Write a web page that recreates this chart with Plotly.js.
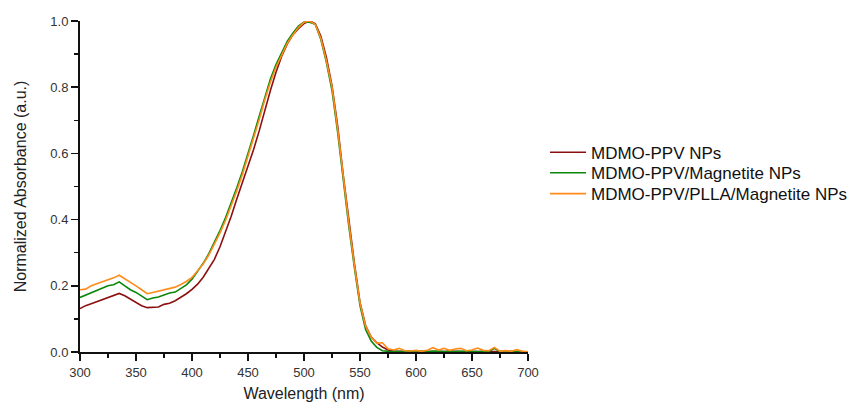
<!DOCTYPE html>
<html>
<head>
<meta charset="utf-8">
<script src="https://cdn.plot.ly/plotly-3.0.1.min.js"></script>
<style>html,body{margin:0;padding:0;background:#fff;}#chart{width:850px;height:402px;}</style>
</head>
<body>
<div id="chart"></div>
<script>
const wavelength = [300,305,310,315,320,325,330,335,340,345,350,355,360,365,370,375,380,385,390,395,
  400,405,410,415,420,425,430,435,440,445,450,455,460,465,470,475,480,485,490,495,
  500,505,510,515,520,525,530,535,540,545,550,555,560,565,570,575,580,585,590,595,
  600,605,610,615,620,625,630,635,640,645,650,655,660,665,670,675,680,685,690,695,700];

const mdmoPPV = [0.131,0.140,0.146,0.152,0.158,0.164,0.172,0.177,0.170,0.160,0.149,0.140,0.134,0.134,0.136,0.144,0.147,0.155,0.165,0.176,
  0.189,0.205,0.226,0.252,0.280,0.318,0.362,0.410,0.462,0.512,0.560,0.612,0.668,0.730,0.790,0.845,0.893,0.930,0.958,0.977,
  0.992,1.000,0.992,0.955,0.890,0.805,0.685,0.535,0.395,0.268,0.150,0.080,0.045,0.028,0.015,0.006,0.003,0.002,0.002,0.001,
  0.002,0.001,0.002,0.001,0.001,0.002,0.001,0.002,0.001,0.001,0.002,0.001,0.002,0.003,0.001,0.001,0.002,0.001,0.001,0.001,0.000];

const mdmoMagnetite = [0.165,0.172,0.181,0.186,0.193,0.200,0.203,0.212,0.200,0.188,0.180,0.168,0.158,0.163,0.166,0.172,0.178,0.181,0.192,0.203,
  0.220,0.243,0.268,0.297,0.330,0.367,0.406,0.450,0.496,0.545,0.598,0.655,0.712,0.772,0.825,0.868,0.905,0.938,0.963,0.985,
  0.997,0.996,0.990,0.945,0.875,0.790,0.665,0.520,0.380,0.255,0.140,0.068,0.033,0.014,0.004,0.002,0.001,0.002,0.001,0.003,
  0.001,0.002,0.001,0.003,0.002,0.001,0.003,0.001,0.002,0.001,0.002,0.001,0.003,0.001,0.011,0.001,0.002,0.001,0.002,0.001,0.000];

const mdmoPLLAMagnetite = [0.188,0.190,0.200,0.206,0.211,0.218,0.224,0.232,0.222,0.212,0.200,0.188,0.176,0.180,0.184,0.187,0.190,0.196,0.204,0.213,
  0.225,0.245,0.266,0.293,0.325,0.360,0.398,0.441,0.487,0.536,0.589,0.645,0.702,0.762,0.815,0.860,0.898,0.932,0.958,0.980,
  0.996,1.000,0.990,0.948,0.880,0.800,0.675,0.530,0.390,0.262,0.148,0.078,0.045,0.027,0.028,0.010,0.006,0.011,0.004,0.003,
  0.005,0.002,0.005,0.013,0.006,0.011,0.005,0.009,0.011,0.004,0.006,0.012,0.005,0.004,0.014,0.002,0.004,0.002,0.007,0.002,0.001];

const seriesNames = ['MDMO-PPV NPs','MDMO-PPV/Magnetite NPs','MDMO-PPV/PLLA/Magnetite NPs'];
const seriesColors = ['#8b1010','#0a870a','#ff8c1a'];
const seriesData = [mdmoPPV, mdmoMagnetite, mdmoPLLAMagnetite];
const legendIds = ['legend','legend2','legend3'];
const legendY = [0.602, 0.540, 0.477];

const font = 'Liberation Sans, Arial, sans-serif';
const traces = seriesData.map((y, i) => ({
  x: wavelength, y: y, type: 'scatter', mode: 'lines', name: seriesNames[i],
  legend: legendIds[i],
  line: {color: seriesColors[i], width: 1.6}
}));

const layout = {
  width: 850, height: 402,
  margin: {l: 80, r: 322, t: 21, b: 50, autoexpand: false},
  paper_bgcolor: '#fff', plot_bgcolor: '#fff',
  font: {family: font, color: '#222'},
  showlegend: true,
  xaxis: {
    range: [300, 700], showgrid: false, zeroline: false, showline: true, linecolor: '#111', linewidth: 2,
    ticks: 'outside', ticklen: 7, tickwidth: 1.5, tickcolor: '#111', dtick: 50, tick0: 300,
    minor: {ticks: 'outside', ticklen: 4, tickwidth: 1.5, tickcolor: '#111', dtick: 25},
    tickfont: {size: 13, family: font, color: '#333'},
    title: {text: 'Wavelength (nm)', font: {size: 16, family: font, color: '#222'}, standoff: 10}
  },
  yaxis: {
    range: [0, 1.0], showgrid: false, zeroline: false, showline: true, linecolor: '#111', linewidth: 2,
    ticks: 'outside', ticklen: 7, tickwidth: 1.5, tickcolor: '#111', dtick: 0.2, tick0: 0, tickformat: '.1f',
    minor: {ticks: 'outside', ticklen: 4, tickwidth: 1.5, tickcolor: '#111', dtick: 0.1},
    tickfont: {size: 13, family: font, color: '#333'},
    title: {text: 'Normalized Absorbance (a.u.)', font: {size: 16, family: font, color: '#222'}, standoff: 20}
  }
};
legendIds.forEach((id, i) => {
  layout[id] = {x: 1.038, xanchor: 'left', y: legendY[i], yanchor: 'middle',
    font: {size: 17, family: font, color: '#111'}, bgcolor: 'rgba(0,0,0,0)', itemwidth: 36};
});

Plotly.newPlot('chart', traces, layout, {displayModeBar: false, staticPlot: true});
</script>
</body>
</html>
